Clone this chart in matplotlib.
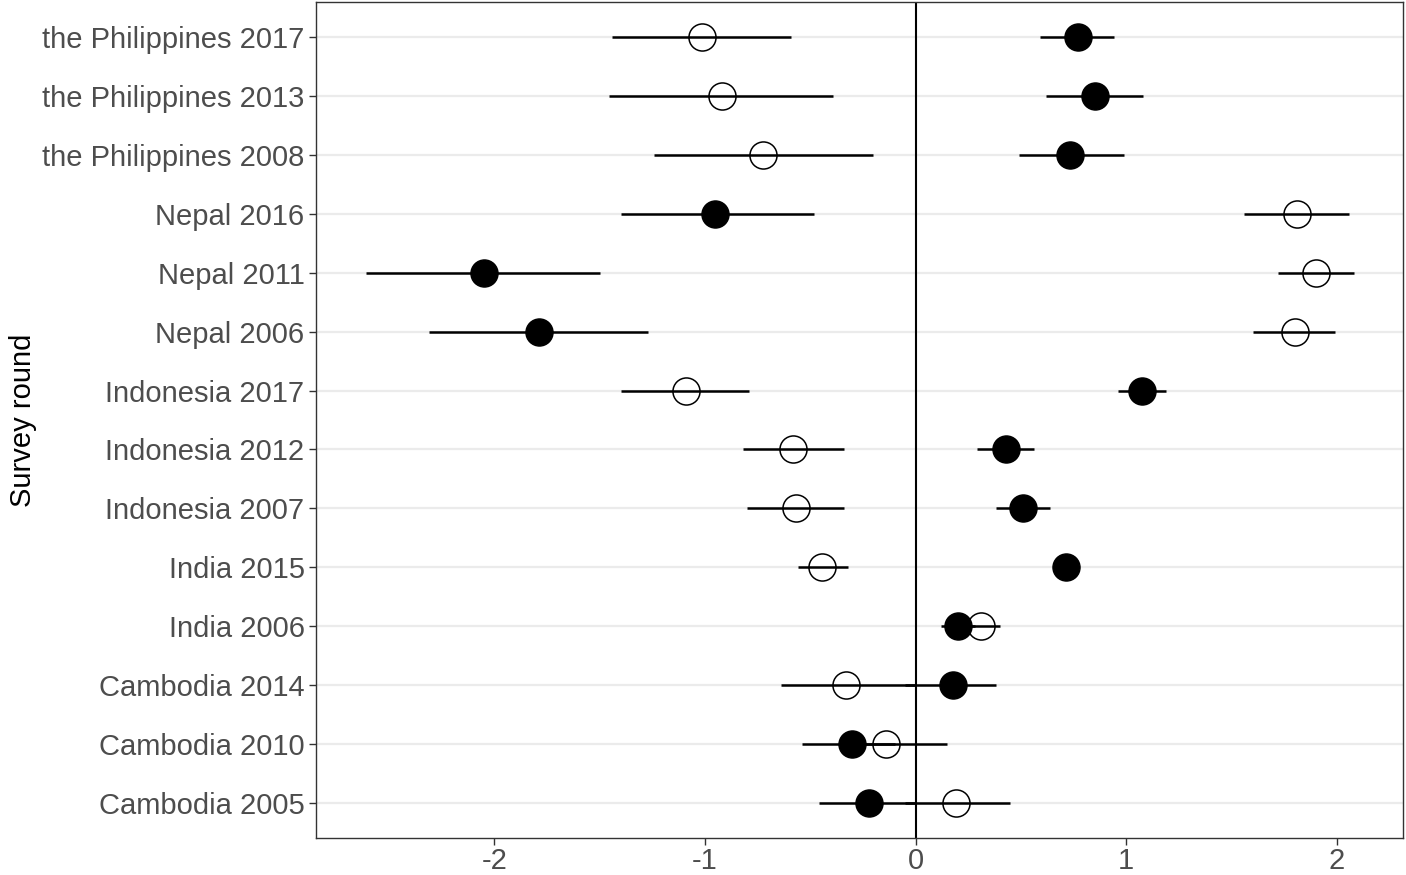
import numpy as np
import matplotlib.pyplot as plt

rounds = ["Cambodia 2005", "Cambodia 2010", "Cambodia 2014", "India 2006", "India 2015",
          "Indonesia 2007", "Indonesia 2012", "Indonesia 2017", "Nepal 2006", "Nepal 2011",
          "Nepal 2016", "the Philippines 2008", "the Philippines 2013", "the Philippines 2017"]

# filled circles: estimate and confidence interval
filled_est = [-0.22, -0.30, 0.18, 0.20, 0.715, 0.51, 0.43, 1.076, -1.79, -2.05, -0.95, 0.735, 0.85, 0.77]
filled_lo = [-0.46, -0.54, -0.05, 0.12, 0.68, 0.38, 0.29, 0.96, -2.31, -2.61, -1.40, 0.49, 0.62, 0.59]
filled_hi = [0.00, -0.10, 0.38, 0.28, 0.75, 0.64, 0.56, 1.19, -1.27, -1.50, -0.48, 0.99, 1.08, 0.94]

# open circles
open_est = [0.19, -0.14, -0.33, 0.31, -0.445, -0.57, -0.58, -1.09, 1.80, 1.90, 1.81, -0.725, -0.92, -1.014]
open_lo = [-0.05, -0.30, -0.64, 0.22, -0.56, -0.80, -0.82, -1.40, 1.60, 1.72, 1.56, -1.24, -1.455, -1.44]
open_hi = [0.45, 0.15, 0.00, 0.40, -0.32, -0.34, -0.34, -0.79, 1.99, 2.08, 2.06, -0.20, -0.39, -0.59]

y = np.arange(len(rounds))

fig, ax = plt.subplots(figsize=(14.06, 8.75), dpi=100)
fig.subplots_adjust(left=0.225, right=0.998, top=0.998, bottom=0.042)

for yy in y:
    ax.axhline(yy, color="#EBEBEB", lw=1.6, zorder=0)
ax.axvline(0, color="black", lw=1.5, zorder=1)

ax.hlines(y, open_lo, open_hi, color="black", lw=1.8, zorder=2)
ax.hlines(y, filled_lo, filled_hi, color="black", lw=1.8, zorder=2)
ax.plot(open_est, y, "o", ms=19.5, mfc="none", mec="black", mew=1.1, ls="none", zorder=3)
ax.plot(filled_est, y, "o", ms=19.5, mfc="black", mec="black", ls="none", zorder=4)

ax.set_xlim(-2.845, 2.315)
ax.set_ylim(-0.6, len(rounds) - 0.4)
ax.set_yticks(y)
ax.set_yticklabels(rounds)
ax.set_xticks([-2, -1, 0, 1, 2])
ax.set_xticklabels(["-2", "-1", "0", "1", "2"])
ax.tick_params(labelsize=21, labelcolor="#4D4D4D", color="#333333", length=5, width=1)
ax.tick_params(axis="x", pad=1.5)
for lab in ax.get_xticklabels() + ax.get_yticklabels():
    lab.set_family("Liberation Sans")
ax.set_ylabel("Survey round", fontsize=21, family="Liberation Sans", labelpad=4)
for s in ax.spines.values():
    s.set_color("#333333")
    s.set_linewidth(1.0)

fig.savefig("out.png", dpi=100)
